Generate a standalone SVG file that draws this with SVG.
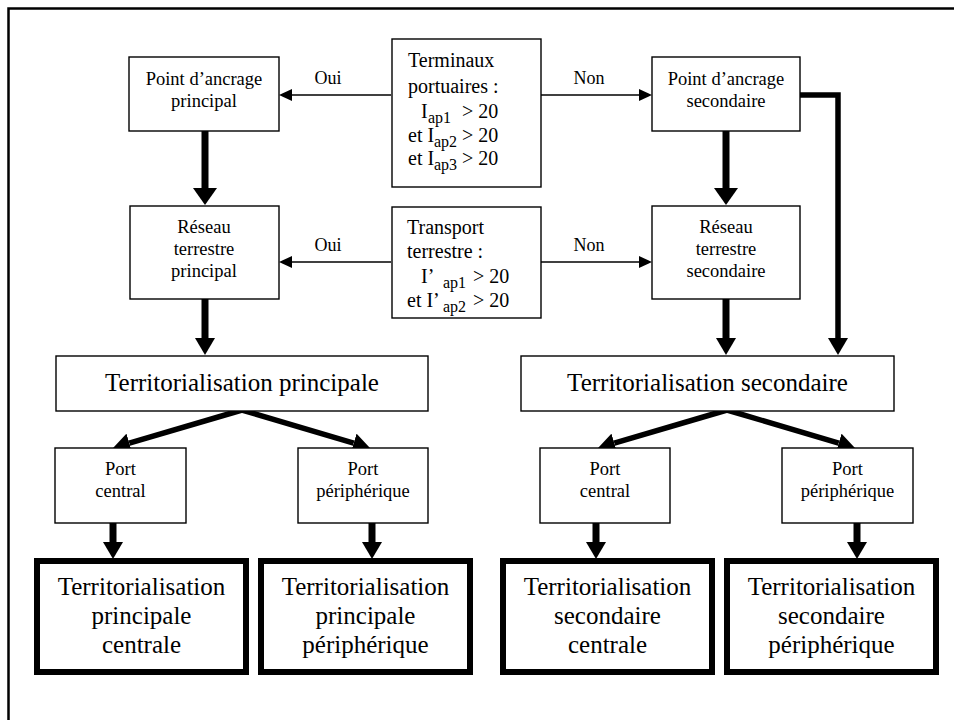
<svg xmlns="http://www.w3.org/2000/svg" width="954" height="720" viewBox="0 0 954 720" font-family="'Liberation Serif', 'Times New Roman', serif">
<style>
  text { font-family: "Liberation Serif", "Times New Roman", serif; fill: #000; }
  .box { fill: #fff; stroke: #000; stroke-width: 1.4; }
  .fbox { fill: #fff; stroke: #000; stroke-width: 6; }
  .s18 { font-size: 18.5px; text-anchor: middle; }
  .s20 { font-size: 20px; }
  .sub { font-size: 16px; }
  .s25 { font-size: 25px; text-anchor: middle; }
  .lbl { font-size: 18px; text-anchor: middle; }
  .thin { stroke: #000; stroke-width: 1.6; fill: none; }
  .thick { stroke: #000; stroke-width: 7; fill: none; }
  .mid { stroke: #000; stroke-width: 5.5; fill: none; }
</style>
<defs>
  <marker id="ah-thin" markerUnits="userSpaceOnUse" markerWidth="14" markerHeight="12" refX="0" refY="6" orient="auto" viewBox="0 0 14 12">
    <path d="M0,0 L13,6 L0,12 z" fill="#000"/>
  </marker>
  <marker id="ah-big" markerUnits="userSpaceOnUse" markerWidth="18" markerHeight="24" refX="0" refY="12" orient="auto" viewBox="0 0 18 24">
    <path d="M0,0 L17,12 L0,24 z" fill="#000"/>
  </marker>
  <marker id="ah-mid" markerUnits="userSpaceOnUse" markerWidth="18" markerHeight="20" refX="0" refY="10" orient="auto" viewBox="0 0 18 20">
    <path d="M0,0 L17,10 L0,20 z" fill="#000"/>
  </marker>
</defs>

<g id="frame">
  <path d="M954,8.5 L8.5,8.5 L8.5,720" fill="none" stroke="#000" stroke-width="2.5"/>
</g>

<g id="connectors">
  <line class="thin" x1="391" y1="95" x2="292" y2="95" marker-end="url(#ah-thin)"/>
  <line class="thin" x1="541" y1="95" x2="639" y2="95" marker-end="url(#ah-thin)"/>
  <line class="thin" x1="391" y1="262" x2="292" y2="262" marker-end="url(#ah-thin)"/>
  <line class="thin" x1="541" y1="262" x2="639" y2="262" marker-end="url(#ah-thin)"/>

  <line class="thick" x1="205" y1="131" x2="205" y2="188" marker-end="url(#ah-big)"/>
  <line class="thick" x1="726" y1="131" x2="726" y2="188" marker-end="url(#ah-big)"/>
  <line class="thick" x1="205" y1="299" x2="205" y2="338" marker-end="url(#ah-mid)"/>
  <line class="thick" x1="726" y1="299" x2="726" y2="338" marker-end="url(#ah-mid)"/>
  <path class="mid" d="M800,95 L838,95 L838,338" marker-end="url(#ah-mid)"/>

  <line class="mid" x1="242" y1="410" x2="129.3" y2="443.2" marker-end="url(#ah-mid)"/>
  <line class="mid" x1="242" y1="410" x2="353.7" y2="443.2" marker-end="url(#ah-mid)"/>
  <line class="mid" x1="727" y1="410" x2="614.3" y2="443.2" marker-end="url(#ah-mid)"/>
  <line class="mid" x1="727" y1="410" x2="838.7" y2="443.2" marker-end="url(#ah-mid)"/>

  <line class="thick" x1="113" y1="523" x2="113" y2="542" marker-end="url(#ah-mid)"/>
  <line class="thick" x1="372" y1="523" x2="372" y2="542" marker-end="url(#ah-mid)"/>
  <line class="thick" x1="596" y1="523" x2="596" y2="542" marker-end="url(#ah-mid)"/>
  <line class="thick" x1="857" y1="523" x2="857" y2="542" marker-end="url(#ah-mid)"/>
</g>

<g id="labels">
  <text class="lbl" x="328" y="84">Oui</text>
  <text class="lbl" x="589" y="84">Non</text>
  <text class="lbl" x="328" y="251">Oui</text>
  <text class="lbl" x="589" y="251">Non</text>
</g>

<g id="n-ancrage-principal">
  <rect class="box" x="129" y="57" width="150" height="74"/>
  <text class="s18" x="204" y="85">Point d’ancrage</text>
  <text class="s18" x="204" y="107">principal</text>
</g>

<g id="n-terminaux">
  <rect class="box" x="392" y="39" width="149" height="148"/>
  <text class="s20" x="408" y="67">Terminaux</text>
  <text class="s20" x="408" y="93">portuaires :</text>
  <text class="s20" y="118"><tspan x="421">I</tspan><tspan class="sub" x="428" dy="5">ap1</tspan><tspan x="462" dy="-5">&gt; 20</tspan></text>
  <text class="s20" y="142"><tspan x="408">et I</tspan><tspan class="sub" x="434" dy="5">ap2</tspan><tspan x="462" dy="-5">&gt; 20</tspan></text>
  <text class="s20" y="165"><tspan x="408">et I</tspan><tspan class="sub" x="434" dy="5">ap3</tspan><tspan x="462" dy="-5">&gt; 20</tspan></text>
</g>

<g id="n-ancrage-secondaire">
  <rect class="box" x="652" y="57" width="148" height="74"/>
  <text class="s18" x="726" y="85">Point d’ancrage</text>
  <text class="s18" x="726" y="107">secondaire</text>
</g>

<g id="n-reseau-principal">
  <rect class="box" x="130" y="206" width="149" height="93"/>
  <text class="s18" x="204" y="233">Réseau</text>
  <text class="s18" x="204" y="255">terrestre</text>
  <text class="s18" x="204" y="277">principal</text>
</g>

<g id="n-transport">
  <rect class="box" x="392" y="207" width="149" height="111"/>
  <text class="s20" x="407" y="234">Transport</text>
  <text class="s20" x="407" y="258">terrestre :</text>
  <text class="s20" y="283"><tspan x="421">I’</tspan><tspan class="sub" x="443" dy="5">ap1</tspan><tspan x="473" dy="-5">&gt; 20</tspan></text>
  <text class="s20" y="307"><tspan x="407">et I’</tspan><tspan class="sub" x="443" dy="5">ap2</tspan><tspan x="473" dy="-5">&gt; 20</tspan></text>
</g>

<g id="n-reseau-secondaire">
  <rect class="box" x="652" y="206" width="148" height="93"/>
  <text class="s18" x="726" y="233">Réseau</text>
  <text class="s18" x="726" y="255">terrestre</text>
  <text class="s18" x="726" y="277">secondaire</text>
</g>

<g id="n-territ-principale">
  <rect class="box" x="56" y="356" width="372" height="55"/>
  <text class="s25" x="242" y="391">Territorialisation principale</text>
</g>

<g id="n-territ-secondaire">
  <rect class="box" x="521" y="356" width="373" height="55"/>
  <text class="s25" x="707.5" y="391">Territorialisation secondaire</text>
</g>

<g id="n-port-central-p">
  <rect class="box" x="55" y="448" width="131" height="75"/>
  <text class="s18" x="120.5" y="475">Port</text>
  <text class="s18" x="120.5" y="497">central</text>
</g>

<g id="n-port-periph-p">
  <rect class="box" x="298" y="448" width="130" height="75"/>
  <text class="s18" x="363" y="475">Port</text>
  <text class="s18" x="363" y="497">périphérique</text>
</g>

<g id="n-port-central-s">
  <rect class="box" x="540" y="448" width="130" height="75"/>
  <text class="s18" x="605" y="475">Port</text>
  <text class="s18" x="605" y="497">central</text>
</g>

<g id="n-port-periph-s">
  <rect class="box" x="782" y="448" width="131" height="75"/>
  <text class="s18" x="847.5" y="475">Port</text>
  <text class="s18" x="847.5" y="497">périphérique</text>
</g>

<g id="n-tpc">
  <rect class="fbox" x="37" y="561" width="209" height="111"/>
  <text class="s25" x="141.5" y="595">Territorialisation</text>
  <text class="s25" x="141.5" y="624">principale</text>
  <text class="s25" x="141.5" y="653">centrale</text>
</g>

<g id="n-tpp">
  <rect class="fbox" x="261" y="561" width="209" height="111"/>
  <text class="s25" x="365.5" y="595">Territorialisation</text>
  <text class="s25" x="365.5" y="624">principale</text>
  <text class="s25" x="365.5" y="653">périphérique</text>
</g>

<g id="n-tsc">
  <rect class="fbox" x="503" y="561" width="209" height="111"/>
  <text class="s25" x="607.5" y="595">Territorialisation</text>
  <text class="s25" x="607.5" y="624">secondaire</text>
  <text class="s25" x="607.5" y="653">centrale</text>
</g>

<g id="n-tsp">
  <rect class="fbox" x="727" y="561" width="209" height="111"/>
  <text class="s25" x="831.5" y="595">Territorialisation</text>
  <text class="s25" x="831.5" y="624">secondaire</text>
  <text class="s25" x="831.5" y="653">périphérique</text>
</g>
</svg>
